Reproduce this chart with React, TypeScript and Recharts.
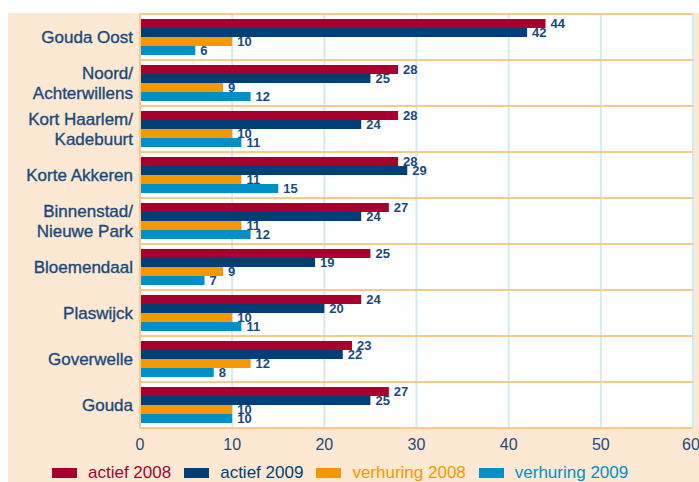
import React from 'react';
import { BarChart, Bar, XAxis, YAxis, CartesianGrid, LabelList, Legend, ReferenceLine } from 'recharts';

const categories = [
  'Gouda Oost',
  'Noord/Achterwillens',
  'Kort Haarlem/Kadebuurt',
  'Korte Akkeren',
  'Binnenstad/Nieuwe Park',
  'Bloemendaal',
  'Plaswijck',
  'Goverwelle',
  'Gouda',
];
const actief2008 = [44, 28, 28, 28, 27, 25, 24, 23, 27];
const actief2009 = [42, 25, 24, 29, 24, 19, 20, 22, 25];
const verhuring2008 = [10, 9, 10, 11, 11, 9, 10, 12, 10];
const verhuring2009 = [6, 12, 11, 15, 12, 7, 11, 8, 10];
const xTicks = [0, 10, 20, 30, 40, 50, 60];

const seriesInfo = [
  { key: 'a2008', name: 'actief 2008', color: '#a6002f' },
  { key: 'a2009', name: 'actief 2009', color: '#003f75' },
  { key: 'v2008', name: 'verhuring 2008', color: '#f39800' },
  { key: 'v2009', name: 'verhuring 2009', color: '#0090c5' },
];

const data = categories.map((name, i) => ({
  name,
  a2008: actief2008[i],
  a2009: actief2009[i],
  v2008: verhuring2008[i],
  v2009: verhuring2009[i],
}));

const NAVY = '#1a4a7a';
const PEACH = '#fce8d3';
const PEACH_LINE = '#f8c88c';
const GRID_BLUE = '#d3e9f4';
const FONT = '"Liberation Sans", Arial, Helvetica, sans-serif';

const CategoryTick = (props: any) => {
  const { x, y, payload } = props;
  const v: string = payload.value;
  const idx = v.indexOf('/');
  const lines = idx >= 0 ? [v.slice(0, idx + 1), v.slice(idx + 1)] : [v];
  const lh = 20;
  const startY = y - ((lines.length - 1) * lh) / 2;
  return (
    <text
      x={x}
      y={startY}
      textAnchor="end"
      fill={NAVY}
      stroke={NAVY}
      strokeWidth={0.35}
      fontSize={17}
      fontFamily={FONT}
    >
      {lines.map((l, i) => (
        <tspan key={i} x={x} y={startY + i * lh} dy="0.35em">
          {l}
        </tspan>
      ))}
    </text>
  );
};

const LegendContent = () => (
  <div style={{ display: 'flex', alignItems: 'center', paddingLeft: 44, fontFamily: FONT, fontSize: 17, height: 18 }}>
    {seriesInfo.map((s) => (
      <div key={s.key} style={{ display: 'flex', alignItems: 'center', marginRight: 13 }}>
        <div style={{ width: 25, height: 10, background: s.color, marginRight: 11 }} />
        <span style={{ color: s.color, lineHeight: '18px' }}>{s.name}</span>
      </div>
    ))}
  </div>
);

export default function App() {
  return (
    <div style={{ position: 'absolute', left: 0, top: 0, width: 699, height: 482, overflow: 'hidden', background: '#fff' }}>
      <div style={{ position: 'absolute', left: 8, top: 13, width: 691, height: 469, background: PEACH }}>
        <BarChart
          width={691}
          height={469}
          data={data}
          layout="vertical"
          margin={{ top: 1, right: 6, left: 0, bottom: 0 }}
          barGap={0}
          barSize={9}
          style={{ fontFamily: FONT }}
        >
          <CartesianGrid horizontal={false} vertical stroke={GRID_BLUE} strokeWidth={2} fill="#ffffff" fillOpacity={1} />
          <CartesianGrid
            vertical={false}
            horizontal
            stroke={PEACH_LINE}
            strokeWidth={2}
            horizontalCoordinatesGenerator={({ offset }: any) =>
              Array.from({ length: categories.length + 1 }, (_, i) => offset.top + (i * offset.height) / categories.length)
            }
          />
          <XAxis
            type="number"
            domain={[0, 60]}
            ticks={xTicks}
            axisLine={false}
            tickLine={false}
            height={36}
            tickMargin={5}
            tick={{ fill: NAVY, fontSize: 16, fontFamily: FONT }}
          />
          <YAxis
            type="category"
            dataKey="name"
            width={132}
            axisLine={false}
            tickLine={false}
            tickSize={0}
            tickMargin={7}
            tick={<CategoryTick />}
            interval={0}
          />
          <ReferenceLine x={0} stroke={PEACH_LINE} strokeWidth={2} />
          {seriesInfo.map((s) => (
            <Bar key={s.key} dataKey={s.key} name={s.name} fill={s.color} isAnimationActive={false}>
              <LabelList
                dataKey={s.key}
                position="right"
                offset={5}
                fill={NAVY}
                fontSize={13}
                fontWeight="bold"
                fontFamily={FONT}
              />
            </Bar>
          ))}
          <Legend verticalAlign="bottom" height={18} content={<LegendContent />} />
        </BarChart>
      </div>
    </div>
  );
}
